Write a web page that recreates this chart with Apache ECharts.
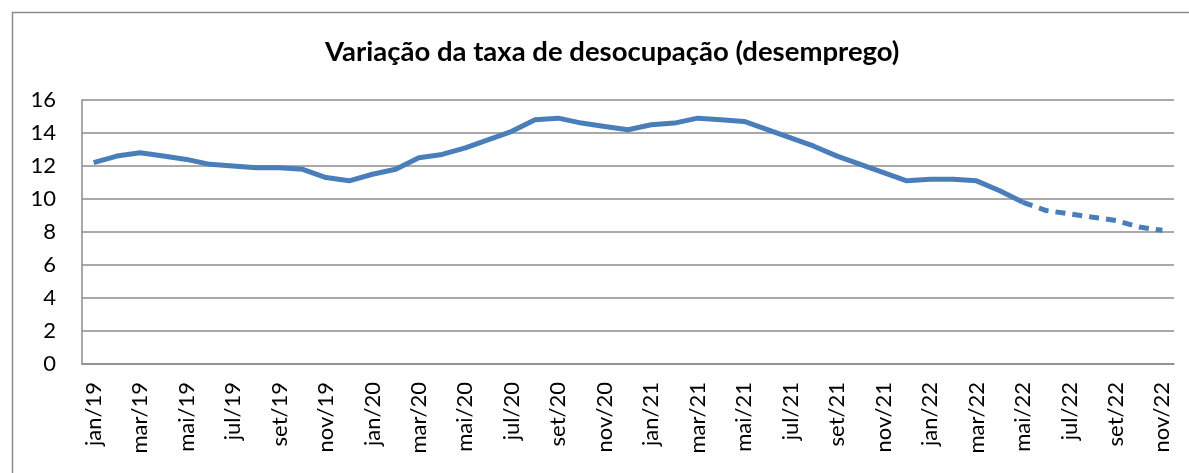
<!DOCTYPE html>
<html>
<head>
<meta charset="utf-8">
<script src="https://cdn.jsdelivr.net/npm/echarts@6/dist/echarts.min.js"></script>
<style>
  html, body { margin: 0; padding: 0; background: #fff; }
  #main { width: 1189px; height: 473px; }
</style>
</head>
<body>
<div id="main"></div>
<script>
// meses jan/19 .. nov/22
const months = [
  'jan/19','fev/19','mar/19','abr/19','mai/19','jun/19','jul/19','ago/19','set/19','out/19','nov/19','dez/19',
  'jan/20','fev/20','mar/20','abr/20','mai/20','jun/20','jul/20','ago/20','set/20','out/20','nov/20','dez/20',
  'jan/21','fev/21','mar/21','abr/21','mai/21','jun/21','jul/21','ago/21','set/21','out/21','nov/21','dez/21',
  'jan/22','fev/22','mar/22','abr/22','mai/22','jun/22','jul/22','ago/22','set/22','out/22','nov/22'
];
// taxa observada (até mai/22)
const observed = [
  12.2, 12.6, 12.8, 12.6, 12.4, 12.1, 12.0, 11.9, 11.9, 11.8, 11.3, 11.1,
  11.5, 11.8, 12.5, 12.7, 13.1, 13.6, 14.1, 14.8, 14.9, 14.6, 14.4, 14.2,
  14.5, 14.6, 14.9, 14.8, 14.7, 14.2, 13.7, 13.2, 12.6, 12.1, 11.6, 11.1,
  11.2, 11.2, 11.1, 10.5, 9.8
];
// projeção (mai/22 em diante)
const projected = [9.8, 9.3, 9.1, 8.9, 8.7, 8.3, 8.1];
const projStart = 40;
const yTicks = { min: 0, max: 16, interval: 2 };

const solidData = months.map((m, i) => i < observed.length ? observed[i] : '-');
const dashedData = months.map((m, i) => i >= projStart ? projected[i - projStart] : '-');

const chart = echarts.init(document.getElementById('main'));
const font = 'Lato, "Open Sans", sans-serif';
const lineColor = '#4A7EBB';
const gridColor = '#8C8C8C';

chart.setOption({
  animation: false,
  title: {
    text: 'Variação da taxa de desocupação (desemprego)',
    left: 320,
    top: 33,
    textStyle: { fontFamily: font, fontWeight: 'bold', fontSize: 27.5, color: '#000' }
  },
  graphic: [{
    type: 'rect',
    shape: { x: 12.5, y: 12.5, width: 1300, height: 600 },
    style: { fill: 'none', stroke: gridColor, lineWidth: 1.5 },
    silent: true
  }],
  grid: { left: 82, right: 15, top: 100, bottom: 109 },
  xAxis: {
    type: 'category',
    data: months,
    boundaryGap: true,
    axisLine: { lineStyle: { color: gridColor, width: 1.5 } },
    axisTick: { show: false },
    axisLabel: {
      interval: 1,
      rotate: 90,
      margin: 18,
      fontFamily: font,
      fontSize: 22,
      color: '#000'
    },
    splitLine: { show: false }
  },
  yAxis: {
    type: 'value',
    min: yTicks.min,
    max: yTicks.max,
    interval: yTicks.interval,
    axisLine: { show: true, lineStyle: { color: gridColor, width: 1.5 } },
    axisTick: { show: false },
    axisLabel: { margin: 26, fontFamily: font, fontSize: 22, color: '#000' },
    splitLine: { lineStyle: { color: gridColor, width: 1.5 } }
  },
  series: [
    {
      name: 'Taxa',
      type: 'line',
      data: solidData,
      showSymbol: false,
      lineStyle: { color: lineColor, width: 5 }
    },
    {
      name: 'Projeção',
      type: 'line',
      data: dashedData,
      showSymbol: false,
      lineStyle: { color: lineColor, width: 5, type: [10, 7] }
    }
  ]
});
</script>
</body>
</html>
